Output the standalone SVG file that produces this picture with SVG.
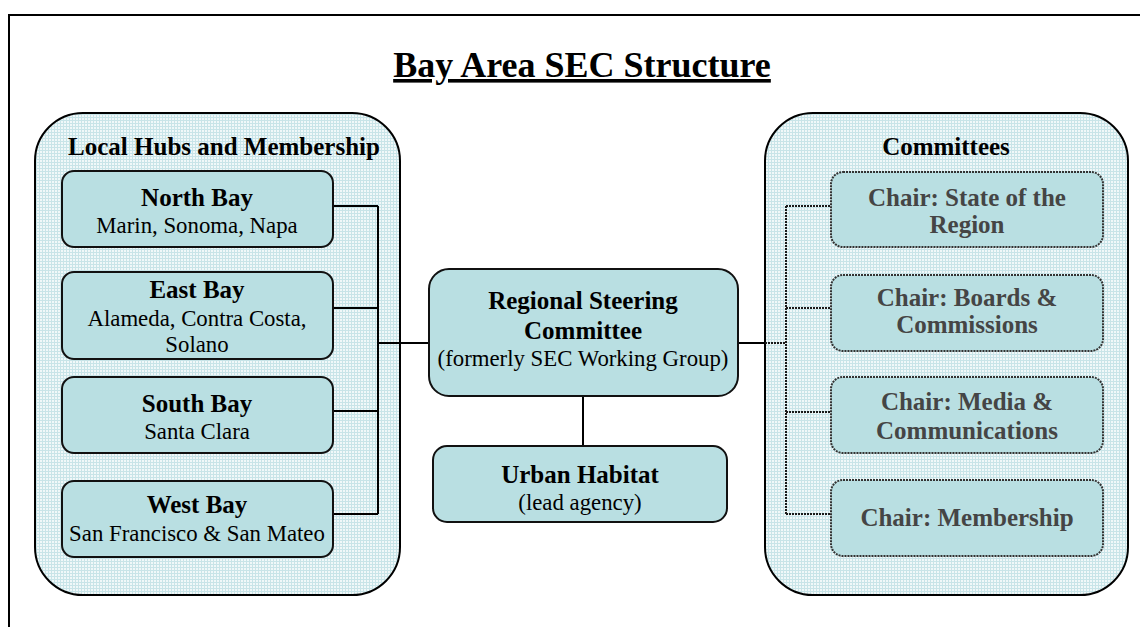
<svg xmlns="http://www.w3.org/2000/svg" width="1140" height="627" viewBox="0 0 1140 627">
<defs>
<pattern id="grid" width="3" height="3" patternUnits="userSpaceOnUse">
<rect width="3" height="3" fill="#f0f8f9"/>
<path d="M0,0.5H3M0.5,0V3" stroke="#c8e4e8" stroke-width="1"/>
</pattern>
<style>
.frame{fill:none;stroke:#000;stroke-width:2}
.cont{fill:url(#grid);stroke:#000;stroke-width:2}
.box{fill:#b9dfe2;stroke:#111;stroke-width:2}
.cbox{fill:#b9dfe2;stroke:#333;stroke-width:2;stroke-dasharray:2 1}
.t{font-family:"Liberation Serif","Times New Roman",serif;text-anchor:middle;fill:#000}
.b{font-weight:bold;font-size:25px}
.r{font-size:22.8px}
.c{font-family:"Liberation Serif","Times New Roman",serif;text-anchor:middle;font-weight:bold;font-size:25px;fill:#454545}
.ln{fill:none;stroke:#000;stroke-width:2}
.dl{fill:none;stroke:#1a1a1a;stroke-width:2;stroke-dasharray:2 1}
</style>
</defs>
<rect width="1140" height="627" fill="#fff"/>
<path class="frame" d="M9,627V15H1140"/>
<text class="t" x="582" y="77" font-size="36" font-weight="bold" text-decoration="underline">Bay Area SEC Structure</text>

<g id="local-hubs">
<rect class="cont" x="35" y="113" width="365" height="482" rx="48" ry="48"/>
<text class="t b" x="224" y="155">Local Hubs and Membership</text>
</g>
<g id="committees">
<rect class="cont" x="765" y="113" width="363" height="482" rx="48" ry="48"/>
<text class="t b" x="946" y="155">Committees</text>
</g>

<g id="connectors">
<path class="ln" d="M333,206H378M333,308H378M333,411H378M333,514H378M378,206V514M378,343H429"/>
<path class="ln" d="M583,396V446"/>
<path class="ln" d="M738,343H765"/>
<path class="dl" d="M765,343H786M786,206V514M786,206H831M786,308H831M786,412H831M786,514H831"/>
</g>

<g id="north-bay">
<rect class="box" x="62" y="171" width="271" height="76" rx="12"/>
<text class="t b" x="197" y="206">North Bay</text>
<text class="t r" x="197" y="233">Marin, Sonoma, Napa</text>
</g>
<g id="east-bay">
<rect class="box" x="62" y="272" width="271" height="87" rx="12"/>
<text class="t b" x="197" y="298">East Bay</text>
<text class="t r" x="197" y="326">Alameda, Contra Costa,</text>
<text class="t r" x="197" y="352">Solano</text>
</g>
<g id="south-bay">
<rect class="box" x="62" y="377" width="271" height="76" rx="12"/>
<text class="t b" x="197" y="412">South Bay</text>
<text class="t r" x="197" y="439">Santa Clara</text>
</g>
<g id="west-bay">
<rect class="box" x="62" y="481" width="271" height="76" rx="12"/>
<text class="t b" x="197" y="513">West Bay</text>
<text class="t r" x="197" y="541">San Francisco &amp; San Mateo</text>
</g>

<g id="steering">
<rect class="box" x="429" y="269" width="309" height="127" rx="20"/>
<text class="t b" x="583" y="309">Regional Steering</text>
<text class="t b" x="583" y="339">Committee</text>
<text class="t r" x="583" y="366">(formerly SEC Working Group)</text>
</g>
<g id="urban-habitat">
<rect class="box" x="433" y="446" width="294" height="76" rx="14"/>
<text class="t b" x="580" y="483">Urban Habitat</text>
<text class="t r" x="580" y="510">(lead agency)</text>
</g>

<g id="chair-state">
<rect class="cbox" x="831" y="172" width="272" height="75" rx="12"/>
<text class="c" x="967" y="206">Chair: State of the</text>
<text class="c" x="967" y="233">Region</text>
</g>
<g id="chair-boards">
<rect class="cbox" x="831" y="275" width="272" height="76" rx="12"/>
<text class="c" x="967" y="306">Chair: Boards &amp;</text>
<text class="c" x="967" y="333">Commissions</text>
</g>
<g id="chair-media">
<rect class="cbox" x="831" y="377" width="272" height="76" rx="12"/>
<text class="c" x="967" y="410">Chair: Media &amp;</text>
<text class="c" x="967" y="439">Communications</text>
</g>
<g id="chair-membership">
<rect class="cbox" x="831" y="480" width="272" height="76" rx="12"/>
<text class="c" x="967" y="526">Chair: Membership</text>
</g>
</svg>
